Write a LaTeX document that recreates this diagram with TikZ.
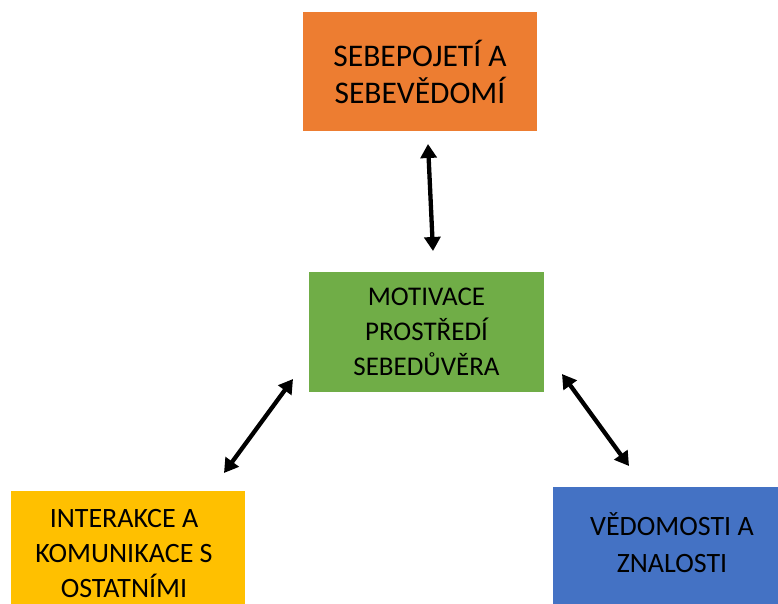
\documentclass[tikz,border=0pt]{standalone}
\usepackage{fontspec}
\setmainfont{Carlito}
\usetikzlibrary{arrows.meta}
\definecolor{corange}{HTML}{ED7D31}
\definecolor{cgreen}{HTML}{70AD47}
\definecolor{cyellow}{HTML}{FFC000}
\definecolor{cblue}{HTML}{4472C4}
\begin{document}
\begin{tikzpicture}[x=1pt,y=-1pt,
  box/.style={rectangle, inner sep=0pt, align=center, text=black,
    font=\fontsize{28}{35}\selectfont},
  arr/.style={line width=4.3pt, {Triangle[length=14pt,width=16pt]}-{Triangle[length=14pt,width=16pt]}}]
\useasboundingbox (0,0) rectangle (778,603);
\begin{scope}
\clip (0,0) rectangle (778,603);
\node[box, fill=corange, minimum width=234pt, minimum height=119pt,
  font=\fontsize{31.5}{37}\selectfont] (o) at (420,71.5) {SEBEPOJETÍ A\\SEBEVĚDOMÍ};
\node[box, fill=cgreen, minimum width=235pt, minimum height=120pt,
  font=\fontsize{27}{35}\selectfont] (g) at (426.5,332) {MOTIVACE\\PROSTŘEDÍ\\SEBEDŮVĚRA};
\node[box, fill=cyellow, minimum width=234pt, minimum height=122pt] (y) at (128,552) {};
\node[box] (yt) at (124,553) {INTERAKCE A\\KOMUNIKACE S\\OSTATNÍMI};
\node[box, fill=cblue, minimum width=234pt, minimum height=122pt] (b) at (670,548) {};
\node[box, font=\fontsize{28}{37}\selectfont] (bt) at (672,543) {VĚDOMOSTI A\\ZNALOSTI};
\end{scope}
\coordinate (t1) at (428,144);
\coordinate (t2) at (433,251);
\coordinate (l1) at (293,379);
\coordinate (l2) at (224,473);
\coordinate (r1) at (562,374);
\coordinate (r2) at (629,466);
\draw[arr] (t1) -- (t2);
\draw[arr] (l1) -- (l2);
\draw[arr] (r1) -- (r2);
\end{tikzpicture}
\end{document}
